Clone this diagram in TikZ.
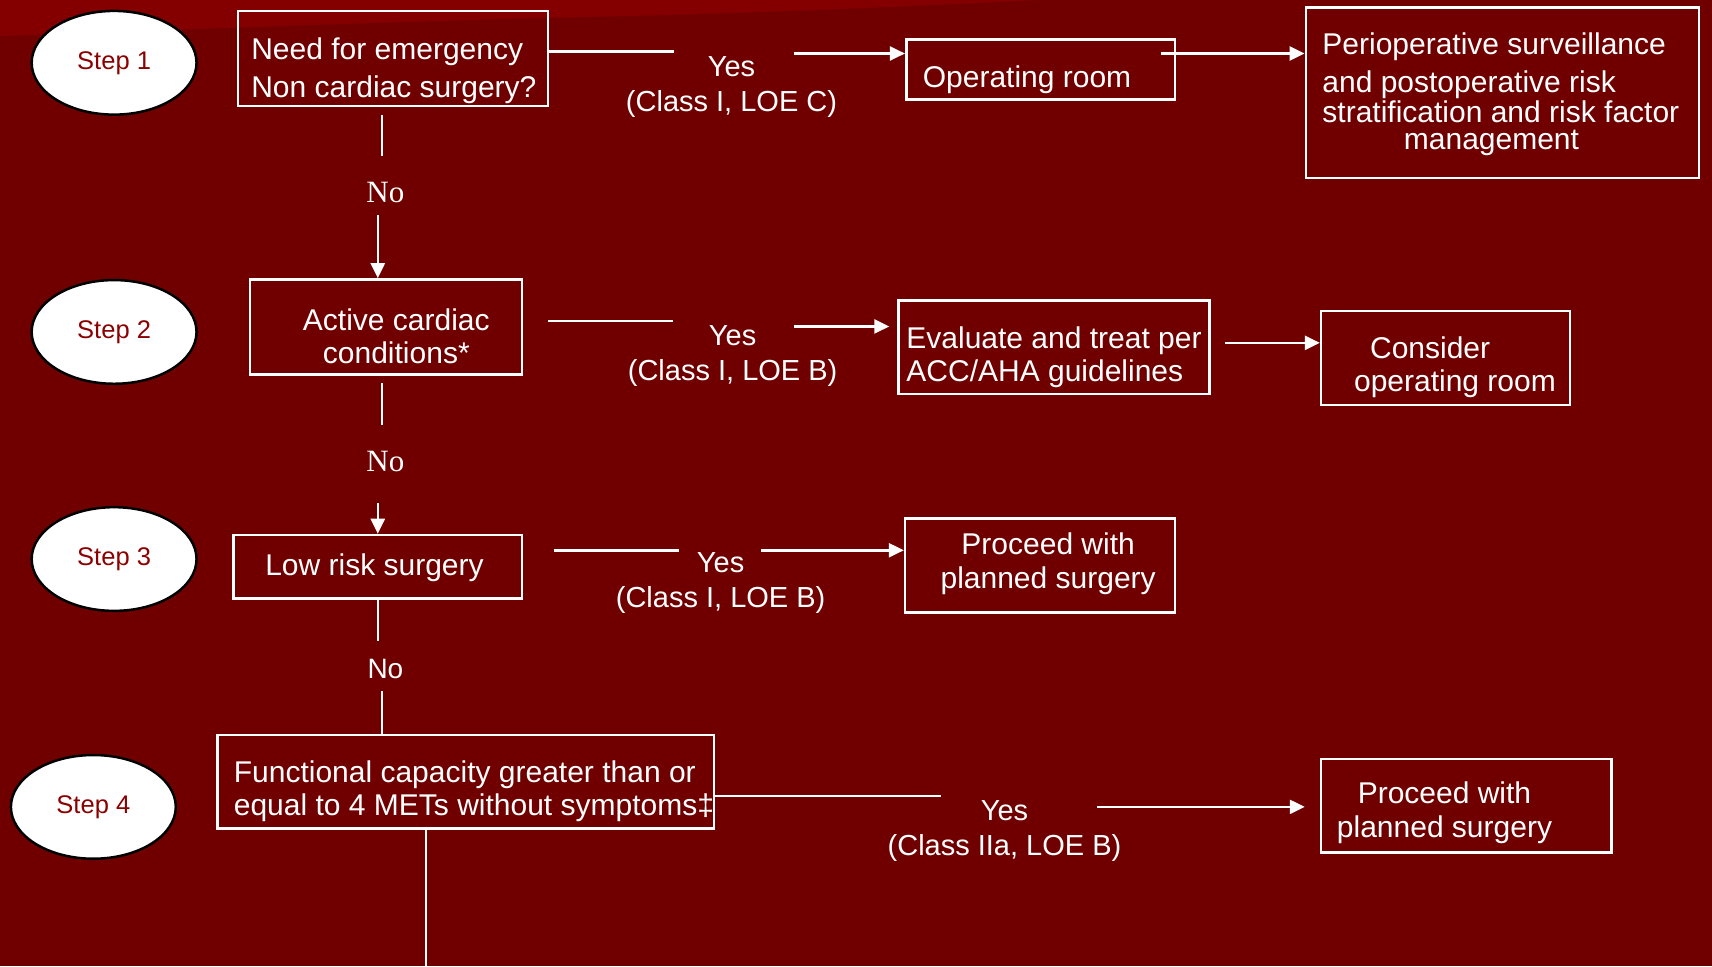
\documentclass[tikz,border=0pt]{standalone}
\usepackage{fontspec}
\setmainfont{Liberation Sans}
\newfontfamily\serifno{Liberation Serif}
\usetikzlibrary{arrows.meta,shapes.geometric}
\definecolor{bg}{HTML}{700000}
\definecolor{bgtop}{HTML}{840000}
\definecolor{stepred}{HTML}{8B0000}
\begin{document}
\begin{tikzpicture}[x=1.0918pt,y={(0pt,-1.0918pt)},
  box/.style={draw=white, line width=2.6pt, rectangle, inner sep=0pt},
  stepnode/.style={ellipse, draw=black, fill=white, line width=2.5pt, minimum width=164.9pt, minimum height=103.7pt, inner sep=0pt, font=\fontsize{25.5}{30}\selectfont, text=stepred},
  txt/.style={text=white, font=\fontsize{30}{35.8}\selectfont, inner sep=0pt, yshift=-3.3pt},
  lbl/.style={text=white, font=\fontsize{29}{35}\selectfont, align=center, inner sep=0pt, yshift=-3.3pt},
  nolbl/.style={text=white, font=\serifno\fontsize{31}{36}\selectfont, inner sep=0pt, yshift=-1.5pt},
  conn/.style={draw=white, line width=2.5pt},
  arr/.style={conn, -{Triangle[length=15pt,width=14pt]}}
]
\useasboundingbox (0,0) rectangle (1568,885);
\fill[bg] (0,0) rectangle (1568,885);
\fill[bgtop] (0,0) -- (0,33) .. controls (250,24) and (420,18) .. (560,15) .. controls (700,12) and (850,5) .. (950,0) -- cycle;

% step ellipses
\node[stepnode] (s1) at (104.5,57.5) {Step 1};
\node[stepnode] (s2) at (104.5,304) {Step 2};
\node[stepnode] (s3) at (104.5,512) {Step 3};
\node[stepnode] (s4) at (85.5,739) {Step 4};

% boxes
\node[box, minimum width=310.1pt, minimum height=95pt] (b1) at (360,53.5) {};
\node[box, minimum width=268.6pt, minimum height=60pt] (orb) at (953,63.5) {};
\node[box, minimum width=393pt, minimum height=170.3pt] (peri) at (1376,85) {};
\node[box, minimum width=271.9pt, minimum height=95pt] (b2) at (353.5,299.5) {};
\node[box, minimum width=311.2pt, minimum height=93.9pt] (ev) at (965.5,318) {};
\node[box, minimum width=248.9pt, minimum height=93.9pt] (cons) at (1324,328) {};
\node[box, minimum width=288.2pt, minimum height=63.3pt] (b3) at (346,519) {};
\node[box, minimum width=269.7pt, minimum height=93.9pt] (pr1) at (952.5,518) {};
\node[box, minimum width=496.8pt, minimum height=93.9pt] (b4) at (426.5,716) {};
\node[box, minimum width=290.4pt, minimum height=93.9pt] (pr2) at (1343,738) {};

% box texts
\node[txt, anchor=west, align=left, font=\fontsize{30}{38.2}\selectfont] (t1) at (230,62) {Need for emergency\\Non cardiac surgery?};
\node[txt, anchor=west] (tor) at (845,70) {Operating room};
\node[txt, anchor=west] (tp1) at (1211,40) {Perioperative surveillance};
\node[txt, anchor=west] (tp2) at (1211,75) {and postoperative risk};
\node[txt, anchor=west] (tp3) at (1211,99) {stratification and risk factor};
\node[txt] (tp4) at (1366,128) {management};
\node[txt, align=center, font=\fontsize{30}{32.8}\selectfont] (t2) at (363,305) {Active cardiac\\conditions*};
\node[txt, anchor=west, align=left, font=\fontsize{30}{32.8}\selectfont] (tev) at (830,324) {Evaluate and treat per\\ACC/AHA guidelines};
\node[txt, anchor=west, align=left, font=\fontsize{30}{32.8}\selectfont] (tcons) at (1240,333) {\hspace*{16pt}Consider\\operating room};
\node[txt] (t3) at (343,517) {Low risk surgery};
\node[txt, align=center, font=\fontsize{30}{33.8}\selectfont] (tpr1) at (960,513.5) {Proceed with\\planned surgery};
\node[txt, anchor=west, align=left, font=\fontsize{30}{32.8}\selectfont] (t4) at (214,722) {Functional capacity greater than or\\equal to 4 METs without symptoms‡};
\node[txt, align=center, font=\fontsize{30}{33.8}\selectfont] (tpr2) at (1323,741.5) {Proceed with\\planned surgery};

% yes labels
\node[lbl] (y1) at (670,77) {Yes\\(Class I, LOE C)};
\node[lbl] (y2) at (671,323) {Yes\\(Class I, LOE B)};
\node[lbl] (y3) at (660,531) {Yes\\(Class I, LOE B)};
\node[lbl] (y4) at (920,758) {Yes\\(Class IIa, LOE B)};

% no labels
\node[nolbl] (n1) at (353,175) {No};
\node[nolbl] (n2) at (353,421) {No};
\node[txt, font=\fontsize{28}{32}\selectfont] (n3) at (353,610) {No};

% coordinates for connector ends
\coordinate (c1a) at (617,47);
\coordinate (c1b) at (727,49);
\coordinate (c1c) at (1063,49);
\coordinate (v1a) at (350,105);
\coordinate (v1b) at (350,143);
\coordinate (v1c) at (346,197);
\coordinate (c2s) at (502,294);
\coordinate (c2a) at (616,294);
\coordinate (c2b) at (727,299);
\coordinate (c2c) at (1122,314);
\coordinate (v2a) at (350,351);
\coordinate (v2b) at (350,389);
\coordinate (v2c) at (346,461);
\coordinate (c3s) at (507,504);
\coordinate (c3a) at (622,504);
\coordinate (c3b) at (697,504);
\coordinate (v3a) at (346,549);
\coordinate (v3b) at (346,587);
\coordinate (v3c) at (350,633);
\coordinate (c4a) at (862,729);
\coordinate (c4b) at (1005,739);
\coordinate (c4e) at (1195,739);
\coordinate (v4a) at (390,757);
\coordinate (v4b) at (390,885);

% step 1 connectors
\draw[conn] (b1.east |- c1a) -- (c1a);
\draw[arr] (c1b) -- (c1b -| orb.west);
\draw[arr] (c1c) -- (c1c -| peri.west);
\draw[conn] (v1a) -- (v1b);
\draw[arr] (v1c) -- (v1c |- b2.north);
% step 2
\draw[conn] (c2s) -- (c2a);
\draw[arr, shorten >=8pt] (c2b) -- (c2b -| ev.west);
\draw[arr] (c2c) -- (c2c -| cons.west);
\draw[conn] (v2a) -- (v2b);
\draw[arr] (v2c) -- (v2c |- b3.north);
% step 3
\draw[conn] (c3s) -- (c3a);
\draw[arr] (c3b) -- (c3b -| pr1.west);
\draw[conn] (v3a) -- (v3b);
\draw[conn] (v3c) -- (v3c |- b4.north);
% step 4
\draw[conn] (b4.east |- c4a) -- (c4a);
\draw[arr] (c4b) -- (c4e);
\draw[conn] (v4a) -- (v4b);
\end{tikzpicture}
\end{document}
